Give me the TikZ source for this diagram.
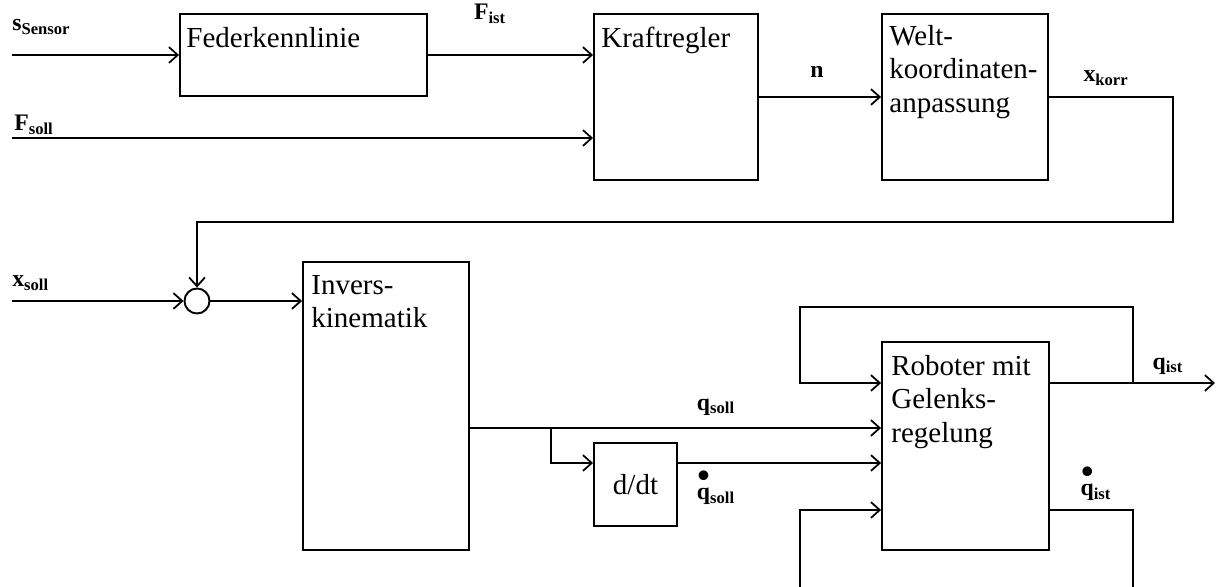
\documentclass[tikz,border=0pt]{standalone}
\usepackage{fontspec}
\setmainfont{Liberation Serif}
\usetikzlibrary{arrows.meta}

\newcommand{\qdot}{\ooalign{q\cr\hidewidth\raisebox{0.5em}{\scalebox{1.5}{\textbullet}}\hidewidth\cr}}

\begin{document}
\begin{tikzpicture}[x=0.02cm,y=-0.02cm]
	\tikzset{
		blk/.style={draw, line width=1.1pt, inner sep=0pt},
		blktxt/.style={font=\fontsize{16.5}{19}\selectfont, align=left, inner sep=0pt},
		lbl/.style={font=\fontsize{13.5}{15}\selectfont\bfseries, inner sep=0pt},
		sig/.style={line width=1.1pt, -{Straight Barb[length=5pt,width=9pt,line width=1pt]}},
		wire/.style={line width=1.1pt}
	}
	\useasboundingbox (0,0) rectangle (1220,587);

	% blocks
	\node[blk, minimum width=4.94cm, minimum height=1.64cm] (fed) at (303.5,55) {};
	\node[blk, minimum width=3.28cm, minimum height=3.32cm] (kraft) at (676,97) {};
	\node[blk, minimum width=3.32cm, minimum height=3.32cm] (welt) at (965,97) {};
	\node[blk, minimum width=3.32cm, minimum height=5.76cm] (inv) at (386,406) {};
	\node[blk, minimum width=1.66cm, minimum height=1.66cm] (ddt) at (635.5,484.5) {};
	\node[blk, minimum width=3.34cm, minimum height=4.16cm] (rob) at (965.5,446) {};
	\node[blk, circle, minimum size=0.5cm] (sum) at (197,301) {};

	\node[blktxt, anchor=north west] (tfed) at ([xshift=0.14cm,yshift=-0.28cm]fed.north west) {Federkennlinie};
	\node[blktxt, anchor=north west] (tkraft) at ([xshift=0.16cm,yshift=-0.28cm]kraft.north west) {Kraftregler};
	\node[blktxt, anchor=north west] (twelt) at ([xshift=0.16cm,yshift=-0.24cm]welt.north west) {Welt-\\koordinaten-\\anpassung};
	\node[blktxt, anchor=north west] (tinv) at ([xshift=0.18cm,yshift=-0.28cm]inv.north west) {Invers-\\kinematik};
	\node[blktxt] (tddt) at (ddt) {d/dt};
	\node[blktxt, anchor=north west] (trob) at ([xshift=0.2cm,yshift=-0.28cm]rob.north west) {Roboter mit\\Gelenks-\\regelung};

	% signals
	\coordinate (sin) at (12,55);
	\coordinate (fin) at (12,138);
	\coordinate (xin) at (12,301);
	\coordinate (kr) at (1173,222);
	\coordinate (qs) at (469,428);
	\coordinate (br) at (551,428);
	\coordinate (dd) at (551,463);
	\coordinate (qi) at (1133,383);
	\coordinate (qout) at (1215,383);
	\coordinate (fb) at (800,307);
	\coordinate (qdi) at (1133,510);
	\coordinate (bot1) at (1133,587);
	\coordinate (bot2) at (800,587);

	\draw[sig] (sin) -- (fed.west);
	\draw[sig] (fed.east) -- (fed.east -| kraft.west);
	\draw[sig] (fin) -- (fin -| kraft.west);
	\draw[sig] (kraft.east) -- (welt.west);
	\draw[sig] (welt.east) -| (kr) -| (sum.north);
	\draw[sig] (xin) -- (sum.west);
	\draw[sig] (sum.east) -- (sum.east -| inv.west);
	\draw[sig] (qs) -- (qs -| rob.west);
	\draw[sig] (br) |- (dd -| ddt.west);
	\draw[sig] (dd -| ddt.east) -- (dd -| rob.west);
	\draw[sig] (qi -| rob.east) -- (qout);
	\draw[sig] (qi) |- (fb) |- (qi -| rob.west);
	\draw[wire] (qdi -| rob.east) -- (qdi) -- (bot1);
	\draw[sig] (bot2) |- (qdi -| rob.west);

	% labels
	\node[lbl, anchor=west] (lsens) at (12,27) {s\textsubscript{Sensor}};
	\node[lbl] (lfist) at (490,14) {F\textsubscript{ist}};
	\node[lbl, anchor=west] (lfsoll) at (14,125) {F\textsubscript{soll}};
	\node[lbl] (ln) at (817,72) {n};
	\node[lbl] (lxkorr) at (1106,78) {x\textsubscript{korr}};
	\node[lbl, anchor=west] (lxsoll) at (12,283) {x\textsubscript{soll}};
	\node[lbl] (lqsoll) at (716,407) {q\textsubscript{soll}};
	\node[lbl, anchor=south] (lqdsoll) at (716,504) {\qdot\textsubscript{soll}};
	\node[lbl] (lqist) at (1168,366) {q\textsubscript{ist}};
	\node[lbl, anchor=south] (lqdist) at (1096,500) {\qdot\textsubscript{ist}};
\end{tikzpicture}
\end{document}
